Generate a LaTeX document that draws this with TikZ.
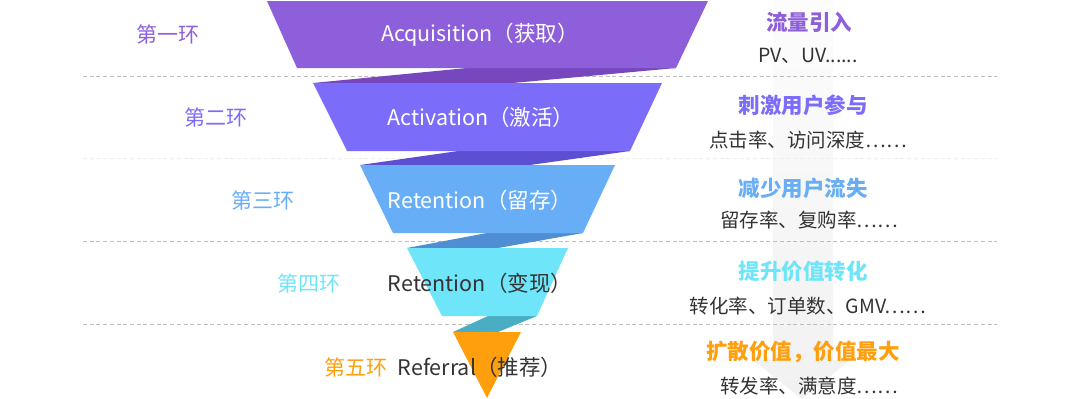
\documentclass[tikz,border=0pt]{standalone}
\usepackage{fontspec}
\setmainfont{Noto Sans CJK SC}
\usetikzlibrary{positioning}

\definecolor{acqC}{HTML}{8E5FDA}
\definecolor{actC}{HTML}{7C6CFA}
\definecolor{retC}{HTML}{68AEF6}
\definecolor{revC}{HTML}{6FE5FA}
\definecolor{refC}{HTML}{FF9F0D}
\definecolor{acqB}{HTML}{7747BE}
\definecolor{actB}{HTML}{5D4FD1}
\definecolor{retB}{HTML}{4F8ED2}
\definecolor{revB}{HTML}{49AEC4}
\definecolor{inkC}{HTML}{333333}
\definecolor{dashC}{HTML}{BDBDBD}
\definecolor{dashF}{HTML}{EEEEEE}

\tikzset{
  segtext/.style={font=\fontsize{21.5}{25}\selectfont, text=white},
  ringtext/.style={font=\fontsize{21}{25}\selectfont},
  headtext/.style={font=\fontsize{21.5}{25}\selectfont\bfseries},
  notetext/.style={font=\fontsize{19.5}{23}\selectfont, text=inkC},
  divider/.style={line width=0.8pt, dash pattern=on 4pt off 2.7pt},
}

\begin{document}
\begin{tikzpicture}[x=1pt, y=-1pt, every node/.style={inner sep=0pt}]
\useasboundingbox (0,0) rectangle (1080,399);

% light arrow behind the right column
\shade[top color=gray!2, bottom color=gray!11]
  (773,0) -- (833,0) -- (833,360) -- (850,360) -- (802,399)
  -- (753,360) -- (773,360) -- cycle;

% dividers
\draw[divider, dashC] (83,76) -- (997,76);
\draw[divider, dashF] (83,158) -- (997,158);
\draw[divider, dashC] (83,241) -- (997,241);
\draw[divider, dashC] (83,324) -- (997,324);

% twisted bands
\fill[acqB] (313,83) -- (467,68) -- (676,68) -- (513,83) -- cycle;
\fill[actB] (360,165) -- (458,151) -- (630,151) -- (530,165) -- cycle;
\fill[retB] (407,248) -- (487,233) -- (583,233) -- (498,248) -- cycle;
\fill[revB] (453,332) -- (488,316) -- (537,316) -- (498,332) -- cycle;

% funnel
\fill[acqC] (267,1) -- (708,1) -- (676,68) -- (297,68) -- cycle;
\fill[actC] (313,83) -- (662,83) -- (630,151) -- (347,151) -- cycle;
\fill[retC] (360,165) -- (615,165) -- (583,233) -- (393,233) -- cycle;
\fill[revC] (407,248) -- (568,248) -- (537,316) -- (442,316) -- cycle;
\fill[refC] (453,332) -- (521,332) -- (487,398) -- cycle;

\node[segtext] (acq) at (480,35) {Acquisition（获取）};
\node[segtext] (act) at (481,117) {Activation（激活）};
\node[segtext] (ret) at (480,200) {Retention（留存）};
\node[segtext, text=inkC] (rev) at (480,283) {Retention（变现）};
\node[segtext, text=inkC] (refr) at (480,367) {Referral（推荐）};

% rings on the left
\node[ringtext, text=acqC] (ring1) at (168,34) {第一环};
\node[ringtext, text=actC] (ring2) at (216,117) {第二环};
\node[ringtext, text=retC] (ring3) at (263,200) {第三环};
\node[ringtext, text=revC] (ring4) at (309,283) {第四环};
\node[ringtext, text=refC] (ring5) at (356,367) {第五环};

% goals and metrics on the right
\node[headtext, text=acqC] (head1) at (809,22) {流量引入};
\node[notetext] (note1) at (808,56) {PV、UV......};
\node[headtext, text=actC] (head2) at (803,105) {刺激用户参与};
\node[notetext] (note2) at (808,140) {点击率、访问深度……};
\node[headtext, text=retC] (head3) at (803,188) {减少用户流失};
\node[notetext] (note3) at (809,220) {留存率、复购率……};
\node[headtext, text=revC] (head4) at (803,271) {提升价值转化};
\node[notetext] (note4) at (808,306) {转化率、订单数、GMV……};
\node[headtext, text=refC] (head5) at (803,352) {扩散价值，价值最大};
\node[notetext] (note5) at (809,386) {转发率、满意度……};
\end{tikzpicture}
\end{document}
